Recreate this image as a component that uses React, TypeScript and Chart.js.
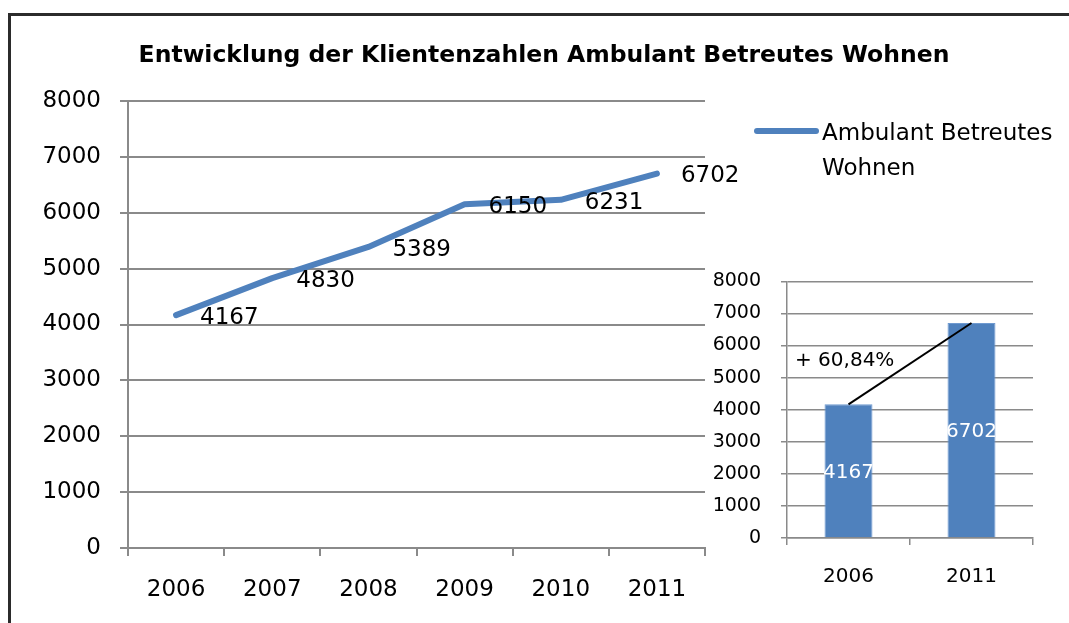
import React, { useEffect, useRef } from "react";
import { Chart, registerables } from "chart.js";

Chart.register(...registerables);

const TITLE = "Entwicklung der Klientenzahlen Ambulant Betreutes Wohnen";
const SERIES_NAME = ["Ambulant Betreutes", "Wohnen"];
const YEARS = ["2006", "2007", "2008", "2009", "2010", "2011"];
const CLIENTS = [4167, 4830, 5389, 6150, 6231, 6702];
const INSET_YEARS = ["2006", "2011"];
const INSET_VALUES = [4167, 6702];
const Y_MIN = 0;
const Y_MAX = 8000;
const Y_STEP = 1000;

const FONT = "'DejaVu Sans', Verdana, sans-serif";
const BLUE = "#4F81BD";
const GRID = "#8a8a8a";

const W = 1069;
const H = 623;
const INSET = { left: 700, top: 250, width: 369, height: 373 };

const growthText = () => {
  const pct = ((INSET_VALUES[1] / INSET_VALUES[0] - 1) * 100).toFixed(2).replace(".", ",");
  return "+ " + pct + "%";
};

const plainTick = (v: any) => String(v);

const mainDecor = {
  id: "mainDecor",
  afterDatasetsDraw(chart: any) {
    const ctx = chart.ctx;
    const meta = chart.getDatasetMeta(0);
    const ca = chart.chartArea;
    ctx.save();
    ctx.fillStyle = "#000";
    ctx.font = `23px ${FONT}`;
    ctx.textAlign = "left";
    ctx.textBaseline = "middle";
    meta.data.forEach((pt: any, i: number) => {
      ctx.fillText(String(CLIENTS[i]), pt.x + 24, pt.y + 3);
    });
    // title
    ctx.font = `bold 23.5px ${FONT}`;
    ctx.textAlign = "center";
    ctx.textBaseline = "alphabetic";
    ctx.fillText(TITLE, 544, 62);
    // legend
    const lx = ca.right + 52;
    ctx.strokeStyle = BLUE;
    ctx.lineWidth = 6;
    ctx.lineCap = "round";
    ctx.beginPath();
    ctx.moveTo(lx, 131);
    ctx.lineTo(lx + 59, 131);
    ctx.stroke();
    ctx.font = `23px ${FONT}`;
    ctx.textAlign = "left";
    ctx.fillText(SERIES_NAME[0], lx + 65, 140);
    ctx.fillText(SERIES_NAME[1], lx + 65, 175);
    ctx.restore();
  },
};

const insetDecor = {
  id: "insetDecor",
  afterDatasetsDraw(chart: any) {
    const ctx = chart.ctx;
    const ca = chart.chartArea;
    const yScale = chart.scales.y;
    const barMeta = chart.getDatasetMeta(1);
    ctx.save();
    ctx.fillStyle = "#fff";
    ctx.font = `20px ${FONT}`;
    ctx.textAlign = "center";
    ctx.textBaseline = "middle";
    barMeta.data.forEach((bar: any, i: number) => {
      ctx.fillText(String(INSET_VALUES[i]), bar.x, (bar.y + bar.base) / 2 + 2);
    });
    ctx.fillStyle = "#000";
    ctx.textAlign = "left";
    ctx.fillText(growthText(), ca.left + 8, yScale.getPixelForValue(5540));
    ctx.restore();
  },
};

export default function App() {
  const mainRef = useRef<HTMLCanvasElement>(null);
  const insetRef = useRef<HTMLCanvasElement>(null);

  useEffect(() => {
    Chart.defaults.color = "#000";
    Chart.defaults.font.family = FONT;

    const main = new Chart(mainRef.current as HTMLCanvasElement, {
      type: "line",
      data: {
        labels: YEARS,
        datasets: [
          {
            label: SERIES_NAME.join(" "),
            data: CLIENTS,
            borderColor: BLUE,
            backgroundColor: BLUE,
            borderWidth: 6,
            borderCapStyle: "round",
            borderJoinStyle: "round",
            pointRadius: 0,
            tension: 0,
          },
        ],
      },
      options: {
        responsive: false,
        animation: false,
        layout: { padding: { left: 0, top: 101, right: W - 705, bottom: 0 } },
        plugins: { legend: { display: false }, title: { display: false }, tooltip: { enabled: false } },
        scales: {
          x: {
            offset: true,
            grid: { offset: true, drawOnChartArea: false, drawTicks: true, tickLength: 8, color: GRID, lineWidth: 2 },
            border: { display: true, color: GRID, width: 2 },
            ticks: { font: { size: 23, family: FONT }, color: "#000", padding: 20, maxRotation: 0 },
            afterFit: (s: any) => {
              s.height = 75;
            },
          },
          y: {
            min: Y_MIN,
            max: Y_MAX,
            ticks: { stepSize: Y_STEP, font: { size: 23, family: FONT }, color: "#000", padding: 19, callback: plainTick },
            grid: { color: GRID, lineWidth: 2, tickLength: 8 },
            border: { display: true, color: GRID, width: 2 },
            afterFit: (s: any) => {
              s.width = 128;
            },
          },
        },
      },
      plugins: [mainDecor],
    } as any);

    const inset = new Chart(insetRef.current as HTMLCanvasElement, {
      type: "bar",
      data: {
        labels: INSET_YEARS,
        datasets: [
          {
            type: "line",
            data: INSET_VALUES,
            borderColor: "#000",
            borderWidth: 2,
            pointRadius: 0,
            tension: 0,
            order: 0,
          },
          {
            type: "bar",
            data: INSET_VALUES,
            backgroundColor: BLUE,
            borderColor: "#6f9ad0",
            borderWidth: 1,
            barPercentage: 0.39,
            categoryPercentage: 1,
            order: 1,
          },
        ],
      },
      options: {
        responsive: false,
        animation: false,
        layout: { padding: { left: 0, top: 28, right: INSET.width - 333, bottom: 0 } },
        plugins: { legend: { display: false }, title: { display: false }, tooltip: { enabled: false } },
        scales: {
          x: {
            offset: true,
            grid: { offset: true, drawOnChartArea: false, drawTicks: true, tickLength: 7, color: GRID, lineWidth: 1.5 },
            border: { display: true, color: GRID, width: 1.5 },
            ticks: { font: { size: 20, family: FONT }, color: "#000", padding: 20, maxRotation: 0 },
            afterFit: (s: any) => {
              s.height = INSET.height - 288;
            },
          },
          y: {
            min: Y_MIN,
            max: Y_MAX,
            ticks: { stepSize: Y_STEP, font: { size: 19, family: FONT }, color: "#000", padding: 20, callback: plainTick },
            grid: { color: GRID, lineWidth: 1.5, tickLength: 6 },
            border: { display: true, color: GRID, width: 1.5 },
            afterFit: (s: any) => {
              s.width = 87;
            },
          },
        },
      },
      plugins: [insetDecor],
    } as any);

    return () => {
      main.destroy();
      inset.destroy();
    };
  }, []);

  return (
    <div style={{ position: "fixed", left: 0, top: 0, width: W, height: H, overflow: "hidden", background: "#fff" }}>
      <canvas ref={mainRef} width={W} height={H} style={{ position: "absolute", left: 0, top: 0, width: W, height: H }} />
      <canvas
        ref={insetRef}
        width={INSET.width}
        height={INSET.height}
        style={{ position: "absolute", left: INSET.left, top: INSET.top, width: INSET.width, height: INSET.height }}
      />
      <div
        style={{
          position: "absolute",
          left: 8,
          top: 13,
          width: W,
          height: H,
          borderTop: "3px solid #2b2b2b",
          borderLeft: "3px solid #2b2b2b",
          boxSizing: "border-box",
          pointerEvents: "none",
        }}
      />
    </div>
  );
}
